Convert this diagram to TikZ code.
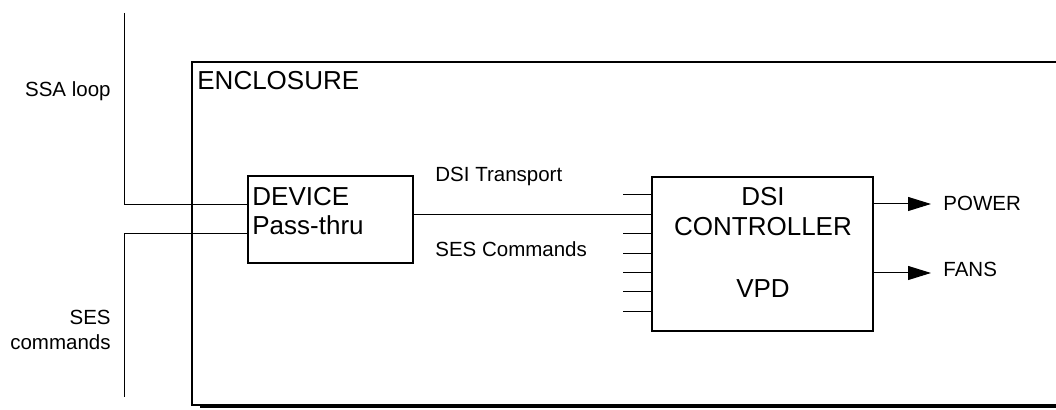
\documentclass[tikz,border=0pt]{standalone}
\usepackage{fontspec}
\setmainfont{Liberation Sans}
\usetikzlibrary{arrows.meta}
\tikzset{
  unitbox/.style={draw, line width=0.7pt, inner sep=0pt, outer sep=0pt},
  bigtxt/.style={font=\fontsize{13}{14.5}\selectfont, inner sep=0pt},
  smalltxt/.style={font=\fontsize{10.25}{12.5}\selectfont, inner sep=0pt},
  wire/.style={line width=0.5pt},
  outarrow/.style={wire, -{Triangle[length=11.5pt,width=7pt]}}
}
\begin{document}
\begin{tikzpicture}[x=0.5pt,y=-0.5pt]
\useasboundingbox[fill=white] (0,0) rectangle (1056,410);
% enclosure (open at the right side)
\draw[line width=0.7pt] (1060,62) -- (192,62) -- (192,405) -- (1060,405);
\draw[line width=1.2pt] (200,406.5) -- (1060,406.5);
\node[bigtxt, anchor=base west] (encl) at (197,90) {ENCLOSURE};
% boxes
\node[unitbox, minimum width=82.5pt, minimum height=43.5pt] (dev) at (330.5,219.5) {};
\node[unitbox, minimum width=110.5pt, minimum height=77pt] (ctl) at (762.5,254) {};
\node[bigtxt, anchor=base west, align=left] (devtxt) at (252,235) {DEVICE\\Pass-thru};
\node[bigtxt, anchor=base] (dsi) at (763,206) {DSI};
\node[bigtxt, anchor=base] (ctltxt) at (763,236) {CONTROLLER};
\node[bigtxt, anchor=base] (vpd) at (763,298) {VPD};
% loop wires
\coordinate (ssatop) at (124,13);
\coordinate (sesbot) at (124,397);
\draw[wire] (ssatop) |- (dev.west |- 0,205);
\draw[wire] (sesbot) |- (dev.west |- 0,234);
\node[smalltxt, anchor=base east] (ssa) at (111,97) {SSA loop};
\node[smalltxt, anchor=base east, align=right] (sescmd) at (111,350) {SES\\commands};
% transport
\draw[wire] (dev.east |- 0,215) -- (ctl.west |- 0,215);
\node[smalltxt, anchor=base west] (trans) at (435,182) {DSI Transport};
\node[smalltxt, anchor=base west] (cmds) at (435,257) {SES Commands};
\foreach \k in {0,2,3,4,5,6}
  \draw[wire] (ctl.west |- 0,195+19.4*\k) -- ++(-29,0);
% outputs
\node[smalltxt, anchor=base west] (power) at (943,211) {POWER};
\node[smalltxt, anchor=base west] (fans) at (943,277) {FANS};
\draw[outarrow] (ctl.east |- 0,204) -- ++(58,0);
\draw[outarrow] (ctl.east |- 0,273) -- ++(58,0);
\end{tikzpicture}
\end{document}
